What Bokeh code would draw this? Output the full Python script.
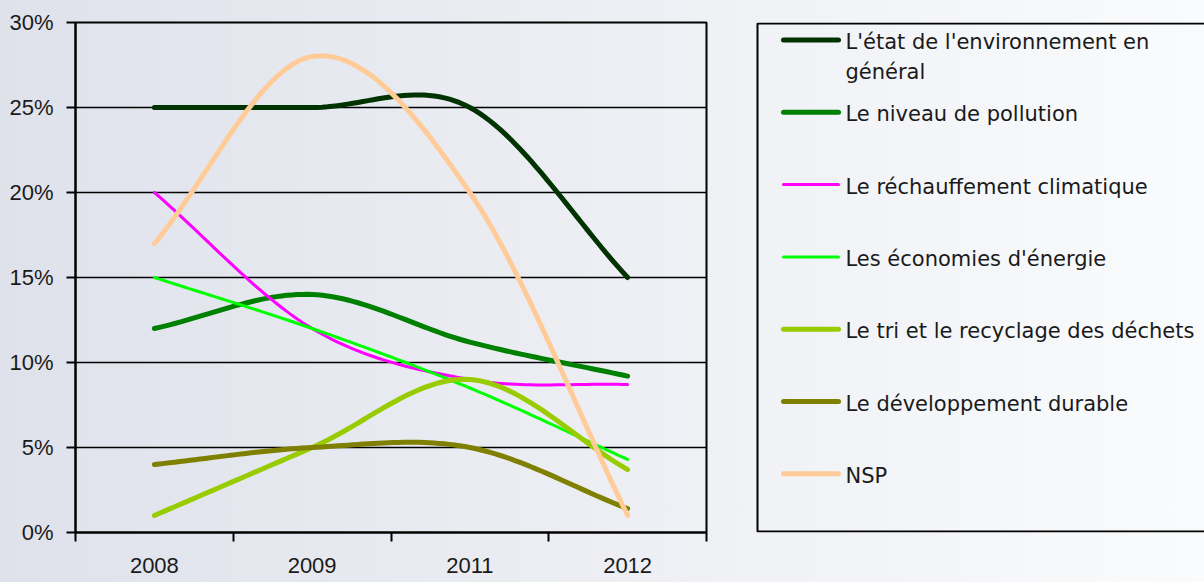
import numpy as np
from bokeh.plotting import figure
from bokeh.layouts import row
from bokeh.models import (Range1d, FixedTicker, PrintfTickFormatter, ColumnDataSource)
from bokeh.core.properties import value
from bokeh.embed import file_html
from bokeh.resources import INLINE

# ---------------- data ----------------
categories = ["2008", "2009", "2011", "2012"]
series_names = [
    "L'état de l'environnement en général",
    "Le niveau de pollution",
    "Le réchauffement climatique",
    "Les économies d'énergie",
    "Le tri et le recyclage des déchets",
    "Le développement durable",
    "NSP",
]
etat_environnement = [25, 25, 25, 15]
niveau_pollution = [12, 14, 11.2, 9.2]
rechauffement = [20, 12, 9, 8.7]
economies_energie = [15, 12, 8.5, 4.3]
tri_recyclage = [1, 5, 9, 3.7]
developpement_durable = [4, 5, 5, 1.4]
nsp = [17, 28, 20, 1]
y_ticks = [0, 5, 10, 15, 20, 25, 30]

series_values = [etat_environnement, niveau_pollution, rechauffement,
                 economies_energie, tri_recyclage, developpement_durable, nsp]

# ---------------- styles ----------------
colors = ["#003300", "#008000", "#FF00FF", "#00FF00", "#99CC00", "#808000", "#FFCC99"]
widths = [5, 5, 3, 3, 5, 5, 5]
TICK_FONT = "Liberation Sans"
LEG_FONT = "DejaVu Sans"
TEXT_COLOR = "#1a1a1a"

FRAME_TOP, FRAME_BOTTOM = 22, 50   # borders around the plotting area (px)


def smooth(vals, n=32):
    """Excel-like smoothed line (Bezier through the points)."""
    y = np.asarray(vals, dtype=float)
    x = np.arange(len(y), dtype=float)
    P = np.column_stack([x, y])
    # phantom end points reflected through the first / last point
    E = np.vstack([2 * P[0] - P[1], P, 2 * P[-1] - P[-2]])
    xs, ys = [], []
    for i in range(len(P) - 1):
        p0, p1, p2, p3 = E[i], E[i + 1], E[i + 2], E[i + 3]
        c1 = p1 + (p2 - p0) / 6.0
        c2 = p2 - (p3 - p1) / 6.0
        t = np.linspace(0, 1, n)[:, None]
        B = ((1 - t) ** 3) * p1 + 3 * ((1 - t) ** 2) * t * c1 + 3 * (1 - t) * t ** 2 * c2 + t ** 3 * p2
        if i < len(P) - 2:
            B = B[:-1]
        xs.extend(B[:, 0])
        ys.extend(B[:, 1])
    return xs, ys


# ---------------- chart ----------------
p = figure(width=745, height=582,
           x_range=Range1d(-0.5, len(categories) - 0.5),
           y_range=Range1d(y_ticks[0], y_ticks[-1]),
           output_backend="svg", toolbar_location=None, title=None,
           min_border_left=75, min_border_right=39,
           min_border_top=FRAME_TOP, min_border_bottom=FRAME_BOTTOM)
p.background_fill_alpha = 0
p.border_fill_alpha = 0
p.outline_line_color = "black"
p.outline_line_width = 2

for vals, c, w in zip(series_values, colors, widths):
    xs, ys = smooth(vals)
    p.line(xs, ys, line_color=c, line_width=w, line_cap="round", line_join="round")

# y axis
p.yaxis.ticker = FixedTicker(ticks=y_ticks)
p.yaxis.formatter = PrintfTickFormatter(format="%d%%")
p.yaxis.major_tick_out = 9
p.yaxis.major_tick_in = 0
p.yaxis.minor_tick_out = 0
p.yaxis.minor_tick_in = 0
p.yaxis.major_label_standoff = 13
p.yaxis.axis_line_width = 2
p.yaxis.major_tick_line_width = 2

# x axis: labels at category centres, tick marks between categories
p.xaxis.ticker = FixedTicker(ticks=list(range(len(categories))),
                             minor_ticks=[i - 0.5 for i in range(len(categories) + 1)])
p.xaxis.major_label_overrides = {i: c for i, c in enumerate(categories)}
p.xaxis.major_tick_out = 0
p.xaxis.major_tick_in = 0
p.xaxis.minor_tick_out = 9
p.xaxis.minor_tick_in = 0
p.xaxis.minor_tick_line_color = "black"
p.xaxis.minor_tick_line_width = 2
p.xaxis.major_label_standoff = 16
p.xaxis.axis_line_width = 2

for ax in (p.xaxis, p.yaxis):
    ax.axis_line_color = "black"
    ax.major_tick_line_color = "black"
    ax.major_label_text_font = TICK_FONT
    ax.major_label_text_font_size = "22px"
    ax.major_label_text_color = TEXT_COLOR

p.xgrid.visible = False
p.ygrid.ticker = FixedTicker(ticks=y_ticks)
p.ygrid.grid_line_color = "black"
p.ygrid.grid_line_width = 1.5

# ---------------- legend panel (pixel coordinates) ----------------
lg = figure(width=459, height=582,
            x_range=Range1d(745, 1204), y_range=Range1d(582 - FRAME_BOTTOM, FRAME_TOP),
            output_backend="svg", toolbar_location=None, title=None,
            x_axis_type=None, y_axis_type=None,
            min_border_left=0, min_border_right=0,
            min_border_top=FRAME_TOP, min_border_bottom=FRAME_BOTTOM)
lg.background_fill_alpha = 0
lg.border_fill_alpha = 0
lg.outline_line_color = None
lg.grid.visible = False

# legend frame (right side runs off the page, as in the original)
lg.quad(left=757, right=1230, top=23, bottom=531, fill_alpha=0,
        line_color="black", line_width=2)

item_step = 72.3
first_y = 39.5
cy = [first_y + i * item_step for i in range(len(series_names))]
labels = list(series_names)
labels[0] = "L'état de l'environnement en\ngénéral"
ty = [y + 2 for y in cy]
ty[0] += 15

sw = ColumnDataSource(dict(x0=[783] * len(cy), x1=[838] * len(cy), y=cy,
                           color=colors, w=widths))
lg.segment(x0="x0", y0="y", x1="x1", y1="y", source=sw, line_color="color",
           line_width="w", line_cap="round")

tx = ColumnDataSource(dict(x=[845] * len(ty), y=ty, text=labels))
lg.text(x="x", y="y", text="text", source=tx, text_font=value(LEG_FONT),
        text_font_size="21px", text_baseline="middle", text_align="left",
        text_color=TEXT_COLOR, text_line_height=1.28)

layout = row(p, lg, margin=(0, 0, 0, 0),
             styles={"background": "linear-gradient(to right, #dfe2eb, #fafbfc)"})

open("out.html", "w").write(file_html(layout, INLINE))
